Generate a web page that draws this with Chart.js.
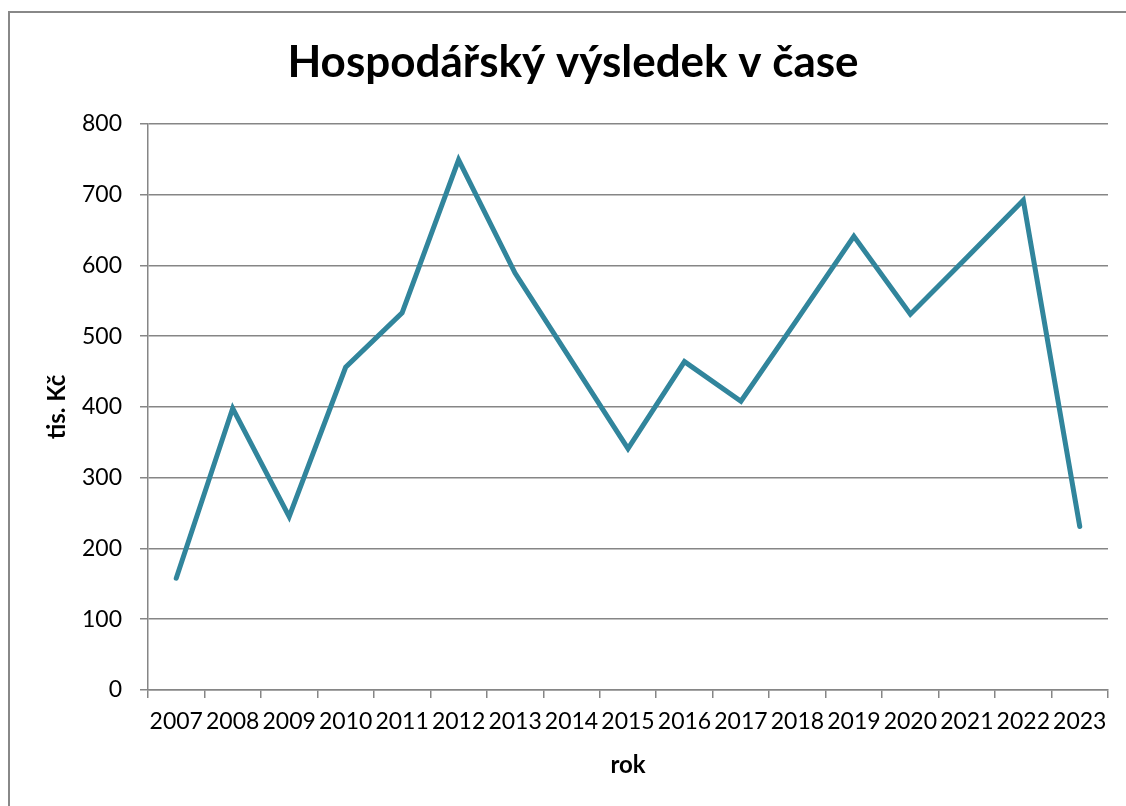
<!DOCTYPE html>
<html>
<head>
<meta charset="utf-8">
<script src="https://cdn.jsdelivr.net/npm/chart.js@4"></script>
<style>
  html, body { margin: 0; padding: 0; background: #fff; }
  #wrap { width: 1126px; height: 806px; position: relative; }
</style>
</head>
<body>
<div id="wrap"><canvas id="chart"></canvas></div>
<script>
  const years = ["2007", "2008", "2009", "2010", "2011", "2012", "2013", "2014", "2015",
                 "2016", "2017", "2018", "2019", "2020", "2021", "2022", "2023"];
  const result = [158, 398, 245, 456, 533, 749, 589, 465, 341, 464, 408, 524, 641, 531, 611, 692, 231];
  const yTicks = [0, 100, 200, 300, 400, 500, 600, 700, 800];

  const GRID = "#868686";
  const FONT = "Lato, 'Open Sans', sans-serif";

  // outer frame of the chart object (only top and left edges are in view)
  const frame = {
    id: "frame",
    beforeDraw(chart) {
      const c = chart.ctx;
      c.save();
      c.fillStyle = "#fff";
      c.fillRect(0, 0, chart.width, chart.height);
      c.strokeStyle = "#888";
      c.lineWidth = 2;
      c.strokeRect(9, 12, chart.width + 20, chart.height + 20);
      c.restore();
    }
  };

  new Chart(document.getElementById("chart"), {
    type: "line",
    data: {
      labels: years,
      datasets: [{
        label: "Hospodářský výsledek",
        data: result,
        borderColor: "#31859C",
        borderWidth: 5,
        borderCapStyle: "round",
        borderJoinStyle: "miter",
        tension: 0,
        pointRadius: 0,
        fill: false
      }]
    },
    options: {
      responsive: true, maintainAspectRatio: false,
      animation: false,
      layout: { padding: { top: 36, left: 38, right: 18, bottom: 14 } },
      plugins: {
        legend: { display: false },
        tooltip: { enabled: false },
        title: {
          display: true,
          text: "Hospodářský výsledek v čase",
          color: "#000",
          font: { family: FONT, size: 44, weight: "bold" },
          padding: { top: 0, bottom: 35 }
        }
      },
      scales: {
        x: {
          offset: true,
          grid: { offset: true, drawOnChartArea: false, drawTicks: true, tickLength: 8, color: GRID, lineWidth: 1.5 },
          border: { color: GRID, width: 1.5 },
          ticks: { color: "#000", font: { family: FONT, size: 23 }, padding: 10, maxRotation: 0, autoSkip: false },
          title: { display: true, text: "rok", color: "#000", font: { family: FONT, size: 24, weight: "bold" }, padding: { top: 6, bottom: 12 } },
          afterFit(scale) { scale.height = 806 - 690 - 14; }
        },
        y: {
          min: 0, max: 800,
          afterBuildTicks(scale) { scale.ticks = yTicks.map(v => ({ value: v })); },
          grid: { color: GRID, lineWidth: 1.5, tickLength: 8 },
          border: { color: GRID, width: 1.5 },
          ticks: { color: "#000", font: { family: FONT, size: 23 }, padding: 18 },
          title: { display: true, text: "tis. Kč", color: "#000", font: { family: FONT, size: 24, weight: "bold" }, padding: { top: 5, bottom: 0 } },
          afterFit(scale) { scale.width = 148 - 38; }
        }
      }
    },
    plugins: [frame]
  });
</script>
</body>
</html>
